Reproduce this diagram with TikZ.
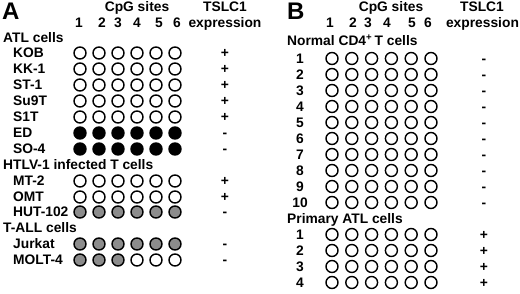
\documentclass[tikz,border=0pt]{standalone}
\usepackage{fontspec}
\setmainfont{Liberation Sans}
\definecolor{methgray}{gray}{0.55}
\begin{document}
\begin{tikzpicture}[x=1pt,y=-1pt,
  font=\fontsize{13.8}{16}\selectfont\bfseries,
  txt/.style={inner sep=0pt, text height=9.9pt, text depth=0pt},
  lab/.style={txt, anchor=west},
  panel/.style={anchor=north west, inner sep=0pt, font=\fontsize{24}{24}\selectfont\bfseries},
  site/.style={draw, circle, line width=1.4pt, minimum size=12pt, inner sep=0pt, fill=white},
  meth/.style={site, fill=black},
  part/.style={site, fill=methgray}]
\useasboundingbox (0,0) rectangle (520,294);

% panel A
\node[panel] (pa) at (2,3) {A};
\node[txt] (cpga) at (137,7) {CpG sites};
\node[txt] (tsa) at (225,7) {TSLC1};
\node[txt] (exa) at (225,22.5) {expression};
\foreach \x [count=\i] in {79,102,118,137,159,177}
  \node[txt] (na\i) at (\x,22.5) {\i};

\node[lab] (atl) at (3,38) {ATL cells};
\node[lab] (htlv) at (3,165) {HTLV-1 infected T cells};
\node[lab] (tall) at (3,228) {T-ALL cells};

\foreach \y/\lab/\ex/\s [count=\k] in {53/KOB/+/site, 69/KK-1/+/site,
    85/ST-1/+/site, 101/Su9T/+/site, 117/S1T/+/site, 133/ED/-/meth,
    149/SO-4/-/meth, 181/MT-2/+/site, 197/OMT/+/site, 212/HUT-102/-/part,
    244/Jurkat/-/part} {
  \node[lab] (ra\k) at (13,\y) {\lab};
  \node[txt] (ea\k) at (225,\y) {\ex};
  \foreach \x [count=\i] in {80,99,118,137,156,175}
    \node[\s] (a\k-\i) at (\x,\y) {};
}

% MOLT-4 row
\node[lab] (ra12) at (13,260) {MOLT-4};
\node[txt] (ea12) at (225,260) {-};
\foreach \x [count=\i] in {80,99,118}
  \node[part] (a12-\i) at (\x,260) {};
\foreach \x [count=\i from 4] in {137,156,175}
  \node[site] (a12-\i) at (\x,260) {};

% panel B
\node[panel] (pb) at (287,3) {B};
\node[txt] (cpgb) at (391,7) {CpG sites};
\node[txt] (tsb) at (482,7) {TSLC1};
\node[txt] (exb) at (482.5,22.5) {expression};
\foreach \x [count=\i] in {330,353,368,387,412,428}
  \node[txt] (nb\i) at (\x,22.5) {\i};

\node[lab] (norm) at (287,41) {Normal CD4\textsuperscript{+}\,T cells};
\node[lab] (prim) at (287,218.5) {Primary ATL cells};

\foreach \y/\lab/\ex [count=\k] in {58.5/1/-, 74.5/2/-, 90.5/3/-, 106.5/4/-,
    122.5/5/-, 138.5/6/-, 154.5/7/-, 170.5/8/-, 186.5/9/-, 202.5/10/-,
    234.5/1/+, 250.5/2/+, 266.5/3/+, 282.5/4/+} {
  \node[txt] (rb\k) at (300,\y) {\lab};
  \node[txt] (eb\k) at (484,\y) {\ex};
  \foreach \x [count=\i] in {332,351.8,371.6,391.4,411.2,431}
    \node[site] (b\k-\i) at (\x,\y) {};
}
\end{tikzpicture}
\end{document}
